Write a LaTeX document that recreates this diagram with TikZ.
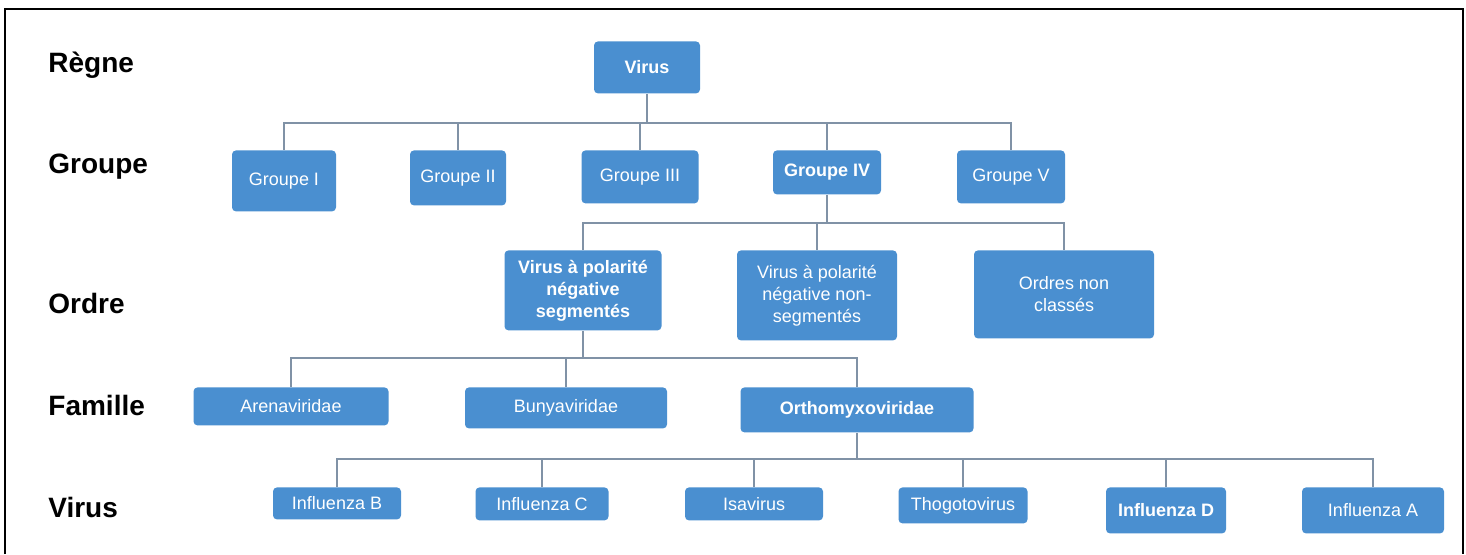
\documentclass[tikz,border=0pt]{standalone}
\usepackage{fontspec}
\setmainfont{Liberation Sans}
\definecolor{boxblue}{RGB}{74,143,208}
\definecolor{linkgrey}{RGB}{128,146,166}
\tikzset{
  taxon/.style={fill=boxblue, text=white, rounded corners=2pt, align=center, inner sep=0pt, anchor=north, font=\fontsize{9}{11}\selectfont},
  taxonbold/.style={taxon, font=\fontsize{9}{11}\selectfont\bfseries},
  link/.style={linkgrey, line width=0.7pt},
  rank/.style={anchor=west, inner sep=0pt, font=\fontsize{14}{16}\selectfont\bfseries}
}
\begin{document}
\begin{tikzpicture}[x=0.5pt, y=-0.5pt]
  \useasboundingbox (0,0) rectangle (1466,554);
  % frame
  \draw[line width=1.2pt] (5,554) |- (1463,9) -- (1463,554);
  % rank labels
  \foreach \t/\y [count=\i] in {Règne/65, Groupe/167, Ordre/303, Famille/405, Virus/507}
    \node[rank] (rank\i) at (48,\y) {\t};
  % regne
  \node[taxonbold, minimum width=53pt, minimum height=26pt] (virus) at (647,41) {Virus};
  % groupes
  \node[taxon, minimum width=52pt, minimum height=30.5pt] (g1) at (284,150) {Groupe I};
  \node[taxon, minimum width=48pt, minimum height=27.5pt] (g2) at (458,150) {Groupe II};
  \node[taxon, minimum width=58.5pt, minimum height=26.5pt] (g3) at (640,150) {Groupe III};
  \node[taxonbold, minimum width=54pt, minimum height=22pt] (g4) at (827,150) {Groupe IV};
  \node[taxon, minimum width=54pt, minimum height=26.5pt] (g5) at (1011,150) {Groupe V};
  % ordres
  \node[taxonbold, minimum width=78.5pt, minimum height=40pt] (o1) at (583,250) {Virus à polarité\\négative\\segmentés};
  \node[taxon, minimum width=80pt, minimum height=45pt] (o2) at (817,250) {Virus à polarité\\négative non-\\segmentés};
  \node[taxon, minimum width=90pt, minimum height=44pt] (o3) at (1064,250) {Ordres non\\classés};
  % familles
  \node[taxon, minimum width=97.5pt, minimum height=19pt] (f1) at (291,387) {Arenaviridae};
  \node[taxon, minimum width=101pt, minimum height=20.5pt] (f2) at (566,387) {Bunyaviridae};
  \node[taxonbold, minimum width=116.5pt, minimum height=22.5pt] (f3) at (857,387) {Orthomyxoviridae};
  % virus
  \node[taxon, minimum width=64pt, minimum height=16pt] (v1) at (337,487) {Influenza B};
  \node[taxon, minimum width=66.5pt, minimum height=16.5pt] (v2) at (542,487) {Influenza C};
  \node[taxon, minimum width=69pt, minimum height=16.5pt] (v3) at (754,487) {Isavirus};
  \node[taxon, minimum width=64.5pt, minimum height=18pt] (v4) at (963,487) {Thogotovirus};
  \node[taxonbold, minimum width=60pt, minimum height=23pt] (v5) at (1166,487) {Influenza D};
  \node[taxon, minimum width=71pt, minimum height=23pt] (v6) at (1373,487) {Influenza A};
  % buses
  \coordinate (busG) at (647,123);
  \coordinate (busO) at (827,223);
  \coordinate (busF) at (583,358);
  \coordinate (busV) at (857,459);
  \draw[link] (virus.south) -- (busG);
  \foreach \n in {g1,g2,g3,g4,g5}
    \draw[link] (\n.north) |- (busG);
  \draw[link] (g4.south) -- (busO);
  \foreach \n in {o1,o2,o3}
    \draw[link] (\n.north) |- (busO);
  \draw[link] (o1.south) -- (busF);
  \foreach \n in {f1,f2,f3}
    \draw[link] (\n.north) |- (busF);
  \draw[link] (f3.south) -- (busV);
  \foreach \n in {v1,v2,v3,v4,v5,v6}
    \draw[link] (\n.north) |- (busV);
\end{tikzpicture}
\end{document}
